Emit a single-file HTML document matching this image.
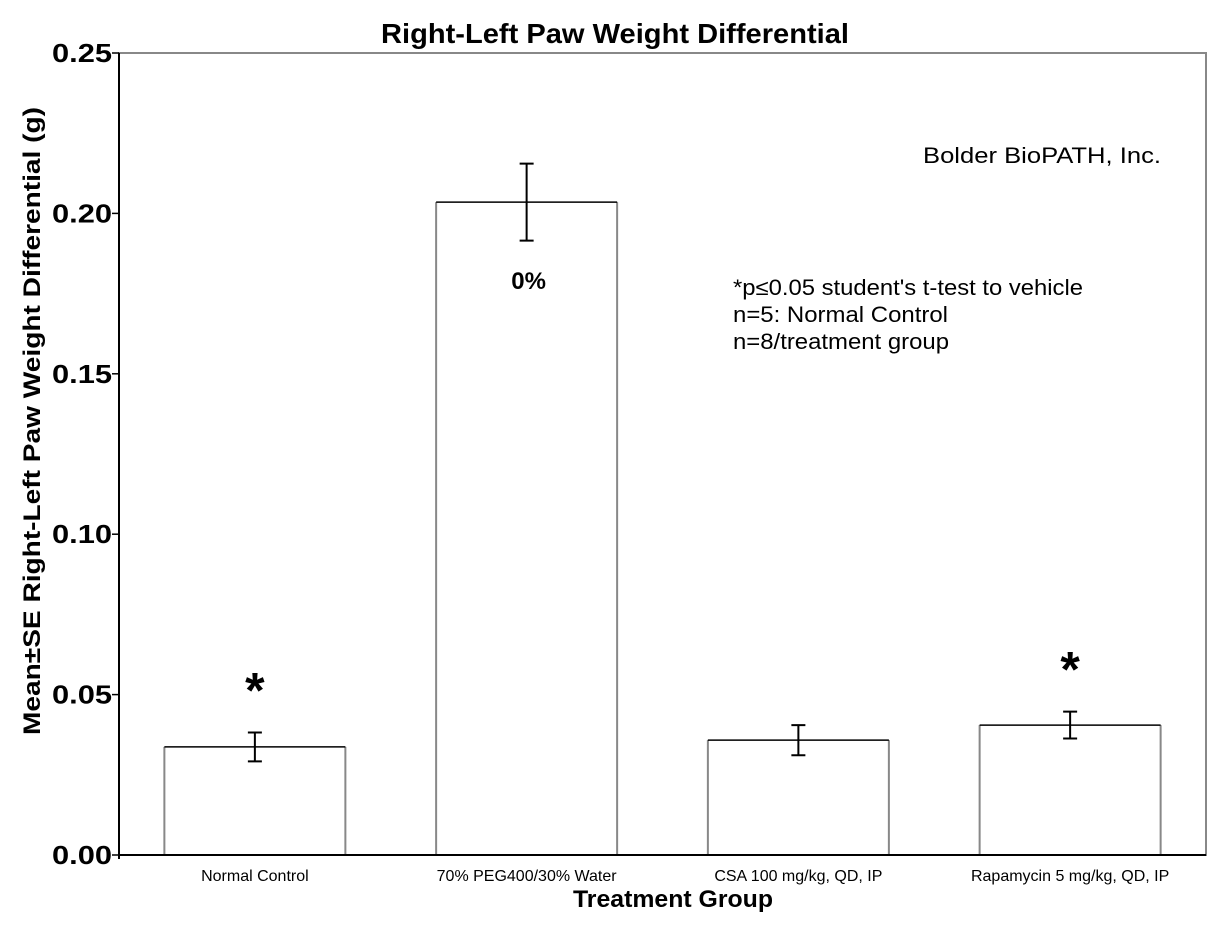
<!DOCTYPE html>
<html><head><meta charset="utf-8"><style>
body{margin:0;background:#fff;}
svg text{font-family:"Liberation Sans",Arial,sans-serif;}
</style></head><body>
<svg id="chart" width="1216" height="926" viewBox="0 0 1216 926" xmlns="http://www.w3.org/2000/svg">
<text x="615" y="43" text-anchor="middle" font-size="28" font-weight="bold" textLength="468" lengthAdjust="spacingAndGlyphs">Right-Left Paw Weight Differential</text>
<rect x="119" y="53" width="1087" height="802" fill="none" stroke="#888" stroke-width="2"/>
<g id="bars"></g>
<g id="axes"></g>
<text x="1161" y="163" text-anchor="end" font-size="22" textLength="238" lengthAdjust="spacingAndGlyphs">Bolder BioPATH, Inc.</text>
<text x="733" y="295" font-size="22" textLength="350" lengthAdjust="spacingAndGlyphs">*p≤0.05 student's t-test to vehicle</text>
<text x="733" y="322" font-size="22" textLength="215" lengthAdjust="spacingAndGlyphs">n=5: Normal Control</text>
<text x="733" y="349" font-size="22" textLength="216" lengthAdjust="spacingAndGlyphs">n=8/treatment group</text>
<text x="673" y="907" text-anchor="middle" font-size="24" font-weight="bold" textLength="200" lengthAdjust="spacingAndGlyphs">Treatment Group</text>
<text transform="translate(40,421) rotate(-90)" text-anchor="middle" font-size="24" font-weight="bold" textLength="628" lengthAdjust="spacingAndGlyphs">Mean±SE Right-Left Paw Weight Differential (g)</text>
</svg>
<script>
const categories=["Normal Control","70% PEG400/30% Water","CSA 100 mg/kg, QD, IP","Rapamycin 5 mg/kg, QD, IP"];
const values=[0.0337,0.2035,0.0358,0.0405];
const errors=[0.0045,0.012,0.0047,0.0042];
const annotations=["*","0%","","*"];
const yTicks=[0,0.05,0.10,0.15,0.20,0.25];
const yTickLabels=["0.00","0.05","0.10","0.15","0.20","0.25"];
const NS="http://www.w3.org/2000/svg";
const X0=119,X1=1206,Y0=855,Y1=53,YMAX=0.25;
const band=(X1-X0)/categories.length;
function y(v){return Y0-(v/YMAX)*(Y0-Y1);}
function xc(i){return X0+band*(i+0.5);}
function mk(tag,attrs,parent){const e=document.createElementNS(NS,tag);for(const k in attrs)e.setAttribute(k,attrs[k]);parent.appendChild(e);return e;}
const bars=document.getElementById('bars'),axes=document.getElementById('axes');
const bw=181;
categories.forEach((c,i)=>{
  const g=mk('g',{},bars);
  
  
  const x=xc(i)-bw/2,top=y(values[i]);
  const r=mk('rect',{x:x,y:top,width:bw,height:Y0-top,fill:'#fff',stroke:'none'},g);
  
  
  mk('path',{d:`M${x},${Y0}V${top}M${x+bw},${Y0}V${top}`,stroke:'#888','stroke-width':2,fill:'none'},g);
  mk('line',{x1:x,x2:x+bw,y1:top,y2:top,stroke:'#000','stroke-width':1.5},g);
  const eh=y(values[i]+errors[i]),el=y(values[i]-errors[i]),cx=xc(i);
  const eb=mk('path',{d:`M${cx},${eh}V${el}M${cx-7},${eh}H${cx+7}M${cx-7},${el}H${cx+7}`,stroke:'#000','stroke-width':2,fill:'none'},g);
  
  
  const lab=mk('text',{x:cx,y:881,'text-anchor':'middle','font-size':16},axes);
  lab.textContent=c;
  
  
  if(annotations[i]==='*'){
    const a=mk('text',{x:cx,y:eh-25,'text-anchor':'middle','font-size':50,'font-weight':'bold'},g);
    a.textContent='*';
    
    
  } else if(annotations[i]){
    const a=mk('text',{x:cx+2,y:top+87,'text-anchor':'middle','font-size':24,'font-weight':'bold'},g);
    a.textContent=annotations[i];
    
    
  }
});
mk('line',{x1:X0,x2:X0,y1:Y1,y2:Y0+4,stroke:'#000','stroke-width':2},axes);
mk('line',{x1:X0,x2:X1,y1:Y0,y2:Y0,stroke:'#000','stroke-width':2},axes);
yTicks.forEach((t,i)=>{
  mk('line',{x1:X0-7,x2:X0,y1:y(t),y2:y(t),stroke:'#000','stroke-width':1.5},axes);
  const l=mk('text',{x:X0-7,y:y(t)+9,'text-anchor':'end','font-size':26,'font-weight':'bold',textLength:60,lengthAdjust:'spacingAndGlyphs'},axes);
  l.textContent=yTickLabels[i];
  
  
});
</script>
</body></html>
